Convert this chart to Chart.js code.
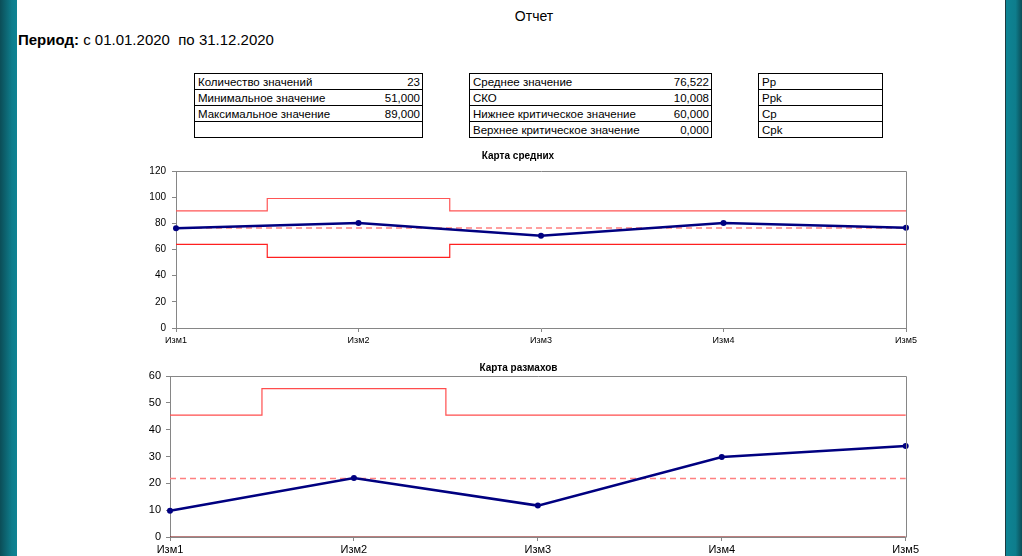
<!DOCTYPE html>
<html><head><meta charset="utf-8">
<script src="https://cdn.jsdelivr.net/npm/chart.js@4/dist/chart.umd.min.js"></script>
<style>
html,body{margin:0;padding:0;background:#fff;width:1022px;height:556px;overflow:hidden;font-family:"Liberation Sans",Arial,sans-serif;}
#lbar{position:absolute;left:0;top:0;width:17px;height:556px;background:linear-gradient(to right,#0b4d57,#0e7d8c 70%,#0e8494);}
#rbar{position:absolute;left:1005px;top:0;width:17px;height:556px;border-left:1px solid #1d3a40;box-sizing:border-box;background:linear-gradient(to right,#0e8494,#0e7d8c 60%,#0b4d57);}
#title{position:absolute;left:0;width:1068px;top:8px;text-align:center;font-size:14px;color:#000;}
#period{position:absolute;left:18px;top:31px;font-size:15px;color:#000;}
table.t{position:absolute;border-collapse:collapse;font-size:11.5px;color:#000;}
table.t td{border-top:1px solid #000;border-bottom:1px solid #000;height:13px;padding:2px 2px 0 3px;white-space:nowrap;line-height:13px;}
table.t{border:1px solid #000;}
td.v{text-align:right;}
canvas{position:absolute;}
</style></head><body>
<div id="lbar"></div><div id="rbar"></div>
<div id="title">Отчет</div>
<div id="period"><b>Период:</b> с 01.01.2020&nbsp; по 31.12.2020</div>
<div id="tables"></div>
<div id="c1w" style="position:absolute;left:130px;top:145px;width:790px;height:207px;"><canvas id="c1"></canvas></div>
<div id="c2w" style="position:absolute;left:130px;top:356px;width:791px;height:200px;"><canvas id="c2"></canvas></div>
<script>
// ---- data ----
const categories = ['Изм1','Изм2','Изм3','Изм4','Изм5'];
const xbarValues = [76.2, 80.3, 70.5, 80.3, 76.6];
const xbarMean = 76.522;
const xbarUCL = [89.5, 99.0, 89.5, 89.5, 89.5];
const xbarLCL = [63.9, 54.0, 63.9, 63.9, 63.9];
const xbarTicks = [0, 20, 40, 60, 80, 100, 120];
const rangeValues = [9.8, 22.0, 11.7, 29.8, 33.9];
const rangeMean = 21.8;
const rangeUCL = [45.4, 55.3, 45.4, 45.4, 45.4];
const rangeLCL = [0, 0, 0, 0, 0];
const rangeTicks = [0, 10, 20, 30, 40, 50, 60];
const statsLeftLabels = ['Количество значений','Минимальное значение','Максимальное значение',''];
const statsLeftValues = ['23','51,000','89,000',''];
const statsMidLabels = ['Среднее значение','СКО','Нижнее критическое значение','Верхнее критическое значение'];
const statsMidValues = ['76,522','10,008','60,000','0,000'];
const statsRightLabels = ['Pp','Ppk','Cp','Cpk'];

// ---- tables ----
function makeTable(left, width, labels, values){
  const t = document.createElement('table');
  t.className='t';
  t.style.left=left+'px'; t.style.top='73px'; t.style.width=width+'px';
  labels.forEach((l,i)=>{
    const tr=document.createElement('tr');
    const a=document.createElement('td'); a.textContent=l; tr.appendChild(a);
    if(values){const b=document.createElement('td'); b.className='v'; b.textContent=values[i]; tr.appendChild(b);}
    t.appendChild(tr);
  });
  document.getElementById('tables').appendChild(t);
}
makeTable(194, 229, statsLeftLabels, statsLeftValues);
makeTable(469, 243, statsMidLabels, statsMidValues);
makeTable(758, 125, statsRightLabels, null);

// ---- frame plugin ----
const frame = {id:'frame', afterDatasetsDraw(chart){
  const a=chart.chartArea, c=chart.ctx;
  c.save(); c.strokeStyle='#868686'; c.lineWidth=1;
  c.beginPath();
  c.moveTo(Math.round(a.left)+0.5, Math.round(a.top)+0.5);
  c.lineTo(Math.round(a.right)+0.5, Math.round(a.top)+0.5);
  c.lineTo(Math.round(a.right)+0.5, Math.round(a.bottom)+0.5);
  c.stroke(); c.restore();
}};

function makeChart(id, opts){
  const ds = [
    {data: opts.lcl, borderColor: opts.lclColor, borderWidth: opts.lclWidth, pointRadius:0, stepped:'middle', fill:false, order:4},
    {data: opts.ucl, borderColor: opts.uclColor, borderWidth:1.2, pointRadius:0, stepped:'middle', fill:false, order:3},
    {data: categories.map(()=>opts.mean), borderColor:'#ff8080', borderWidth:1.5, borderDash:[6,4], pointRadius:0, fill:false, order:2},
    {data: opts.values, borderColor:'#000080', backgroundColor:'#000080', borderWidth:2.5, pointRadius:3, pointBackgroundColor:'#000080', pointBorderWidth:0, fill:false, tension:0, order:1}
  ];
  return new Chart(document.getElementById(id), {
    type:'line',
    data:{labels:categories, datasets:ds},
    options:{
      responsive:true, maintainAspectRatio:false, animation:false,
      layout:{padding:{left:0,right:14,top:0,bottom:0}},
      plugins:{legend:{display:false}, tooltip:{enabled:false},
        title:{display:true, text:opts.title, color:'#000', font:{family:'"Liberation Sans",Arial,sans-serif', size:10, weight:'bold'}, padding:opts.titlePad}},
      scales:{
        x:{type:'category', offset:false,
          grid:{display:true, drawOnChartArea:false, drawTicks:true, tickLength:4, color:'#868686'},
          border:{display:true, color:'#868686'},
          ticks:{color:'#000', font:{family:'"Liberation Sans",Arial,sans-serif', size:opts.xFont}, padding:opts.xPad, maxRotation:0, autoSkip:false},
          afterFit(s){s.height=opts.xHeight;}},
        y:{min:0, max:opts.ticks[opts.ticks.length-1],
          afterBuildTicks(s){s.ticks=opts.ticks.map(v=>({value:v}));},
          grid:{display:true, drawOnChartArea:false, drawTicks:true, tickLength:4, color:'#868686'},
          border:{display:true, color:'#868686'},
          ticks:{color:'#000', font:{family:'"Liberation Sans",Arial,sans-serif', size:opts.yFont}, padding:opts.yPad},
          afterFit(s){s.width=opts.yWidth;}}
      }
    },
    plugins:[frame]
  });
}

makeChart('c1', {title:'Карта средних', titlePad:{top:5,bottom:9}, values:xbarValues, mean:xbarMean, ucl:xbarUCL, lcl:xbarLCL,
  lclColor:'#ff2020', lclWidth:1.2, uclColor:'#ff5555', ticks:xbarTicks, xFont:9, yFont:10, xPad:3, yPad:6, xHeight:24, yWidth:46});
makeChart('c2', {title:'Карта размахов', titlePad:{top:6,bottom:2}, values:rangeValues, mean:rangeMean, ucl:rangeUCL, lcl:rangeLCL,
  lclColor:'#7a0000', lclWidth:1.2, uclColor:'#ff4d4d', ticks:rangeTicks, xFont:11, yFont:11, xPad:2, yPad:5, xHeight:19, yWidth:40});
</script>
</body></html>
